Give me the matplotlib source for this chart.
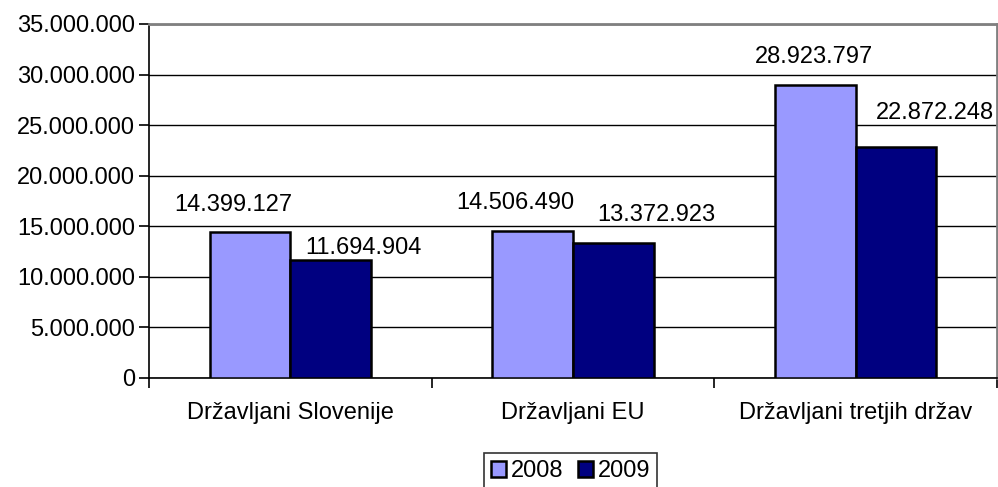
import numpy as np
import matplotlib.pyplot as plt
from matplotlib.ticker import FuncFormatter

plt.rcParams['font.family'] = ['Liberation Sans', 'DejaVu Sans']

categories = ['Državljani Slovenije', 'Državljani EU', 'Državljani tretjih držav']
years = ['2008', '2009']
v2008 = [14399127, 14506490, 28923797]
v2009 = [11694904, 13372923, 22872248]
colors = ['#9999FF', '#000080']

# label shifts in pixels (dx, dy) relative to top centre of bar
shift2008 = [(-17, 27), (-17, 28), (-1, 28)]
shift2009 = [(33, 12), (43, 28), (39, 34)]

def fmt(v):
    return '{:,}'.format(int(v)).replace(',', '.')

fs = 17
fig = plt.figure(figsize=(9.98, 4.87), dpi=100)
ax = fig.add_axes([149/998, 1 - 378/487, 848/998, 354/487])

x = np.arange(len(categories))
w = 0.2857
b1 = ax.bar(x - w/2, v2008, w, color=colors[0], edgecolor='black', linewidth=1.8, label=years[0], zorder=3)
b2 = ax.bar(x + w/2, v2009, w, color=colors[1], edgecolor='black', linewidth=1.8, label=years[1], zorder=3)

for bars, vals, sh in [(b1, v2008, shift2008), (b2, v2009, shift2009)]:
    for b, v, (dx, dy) in zip(bars, vals, sh):
        ax.annotate(fmt(v), (b.get_x() + b.get_width()/2, v), xytext=(dx, dy),
                    textcoords='offset pixels', ha='center', va='center',
                    fontsize=fs, zorder=4, annotation_clip=False)

ax.set_xlim(-0.5, 2.5)
ax.set_ylim(0, 35000000)
ax.set_yticks(np.arange(0, 35000001, 5000000))
ax.yaxis.set_major_formatter(FuncFormatter(lambda v, p: fmt(v)))
ax.yaxis.grid(True, color='black', linewidth=1.0, zorder=0)
ax.set_axisbelow(True)

ax.set_xticks(x)
ax.set_xticklabels(categories)
ax.set_xticks([-0.5, 0.5, 1.5, 2.5], minor=True)
ax.tick_params(axis='x', which='major', length=0, pad=17, labelsize=fs)
ax.tick_params(axis='x', which='minor', length=7, width=1.2, color='black', direction='out')
ax.tick_params(axis='y', length=7, width=1.2, direction='out', labelsize=fs, pad=3)

for s in ['top', 'right']:
    ax.spines[s].set_color('#808080')
    ax.spines[s].set_linewidth(2)
for s in ['left', 'bottom']:
    ax.spines[s].set_color('black')
    ax.spines[s].set_linewidth(1.2)

leg = fig.legend(loc='upper left', bbox_to_anchor=(484/998, 1 - 453/487), ncol=2,
                 fontsize=fs, frameon=True, fancybox=False, edgecolor='black',
                 handlelength=0.65, handleheight=0.65, handletextpad=0.2,
                 columnspacing=0.6, borderpad=0.3, borderaxespad=0)
leg.get_frame().set_linewidth(1.2)

fig.savefig('out.png', dpi=100)
